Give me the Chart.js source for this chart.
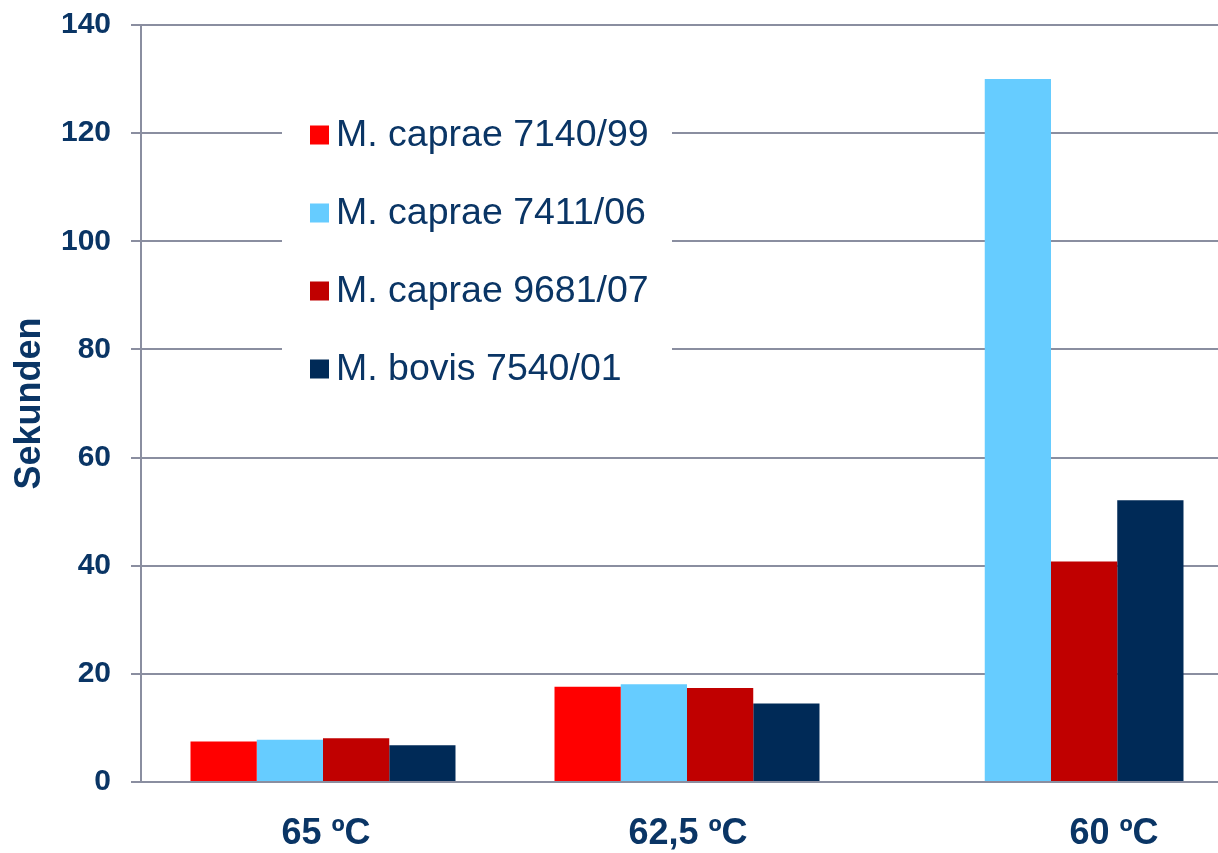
<!DOCTYPE html>
<html>
<head>
<meta charset="utf-8">
<script src="https://cdn.jsdelivr.net/npm/chart.js@4"></script>
<style>
  html, body { margin: 0; padding: 0; background: #ffffff; overflow: hidden; }
  #wrap { width: 1240px; height: 853px; position: relative; }
</style>
</head>
<body>
<div id="wrap"><canvas id="c"></canvas></div>
<script>
const categories = ['65 ºC', '62,5 ºC', '60 ºC'];
const seriesNames = ['M. caprae 7140/99', 'M. caprae 7411/06', 'M. caprae 9681/07', 'M. bovis 7540/01'];
const caprae7140 = [7.5, 17.6, null];
const caprae7411 = [7.8, 18.1, 130];
const caprae9681 = [8.1, 17.4, 40.8];
const bovis7540 = [6.8, 14.5, 52.1];
const yTicks = [0, 20, 40, 60, 80, 100, 120, 140];
const labelShift = [3, 1, 63];

const colors = ['#FF0000', '#66CCFF', '#C00000', '#002A57'];
const textColor = '#0A3565';
const gridColor = '#8A8EA0';
const font = '"Liberation Sans", Arial, Helvetica, sans-serif';

const seriesValues = [caprae7140, caprae7411, caprae9681, bovis7540];

const legendPlugin = {
  id: 'insideLegend',
  afterDraw(chart) {
    const ctx = chart.ctx;
    ctx.save();
    ctx.fillStyle = '#ffffff';
    ctx.fillRect(282, 98, 390, 310);
    chart.data.datasets.forEach((ds, i) => {
      const cy = 135 + i * 78;
      ctx.fillStyle = ds.backgroundColor;
      ctx.fillRect(310, cy - 9.5, 19, 19);
      ctx.fillStyle = textColor;
      ctx.font = '37.5px ' + font;
      ctx.textAlign = 'left';
      ctx.textBaseline = 'middle';
      ctx.fillText(ds.label, 336, cy + 1);
    });
    ctx.restore();
  }
};

const xLabelPlugin = {
  id: 'xLabels',
  afterDraw(chart) {
    const ctx = chart.ctx;
    const xs = chart.scales.x;
    ctx.save();
    ctx.fillStyle = textColor;
    ctx.font = 'bold 36px ' + font;
    ctx.textAlign = 'center';
    ctx.textBaseline = 'middle';
    categories.forEach((c, i) => {
      ctx.fillText(c, xs.getPixelForValue(i) + labelShift[i], chart.chartArea.bottom + 52);
    });
    ctx.restore();
  }
};

new Chart(document.getElementById('c'), {
  type: 'bar',
  data: {
    labels: categories,
    datasets: seriesNames.map((n, i) => ({
      label: n,
      data: seriesValues[i],
      backgroundColor: colors[i],
      borderWidth: 0,
      barPercentage: 1.0,
      categoryPercentage: 0.728
    }))
  },
  options: {
    responsive: true,
    maintainAspectRatio: false,
    animation: false,
    devicePixelRatio: 1,
    layout: { padding: { top: 25, right: 7, bottom: 0, left: 0 } },
    plugins: {
      legend: { display: false },
      tooltip: { enabled: false }
    },
    scales: {
      x: {
        grid: { display: false },
        border: { display: true, color: gridColor, width: 2 },
        ticks: { display: false },
        afterFit: (s) => { s.height = 71; s.paddingLeft = 0; s.paddingRight = 0; }
      },
      y: {
        min: 0,
        max: 140,
        afterBuildTicks: (s) => { s.ticks = yTicks.map(v => ({ value: v })); },
        afterFit: (s) => { s.width = 141; s.paddingTop = 0; s.paddingBottom = 0; },
        grid: { color: gridColor, lineWidth: 2, tickLength: 10, drawTicks: true },
        border: { display: true, color: gridColor, width: 2 },
        ticks: {
          color: textColor,
          padding: 20,
          font: { family: font, size: 30, weight: 'bold' }
        },
        title: {
          display: true,
          text: 'Sekunden',
          color: textColor,
          padding: { top: 8, bottom: 0 },
          font: { family: font, size: 36, weight: 'bold' }
        }
      }
    }
  },
  plugins: [legendPlugin, xLabelPlugin]
});
</script>
</body>
</html>
